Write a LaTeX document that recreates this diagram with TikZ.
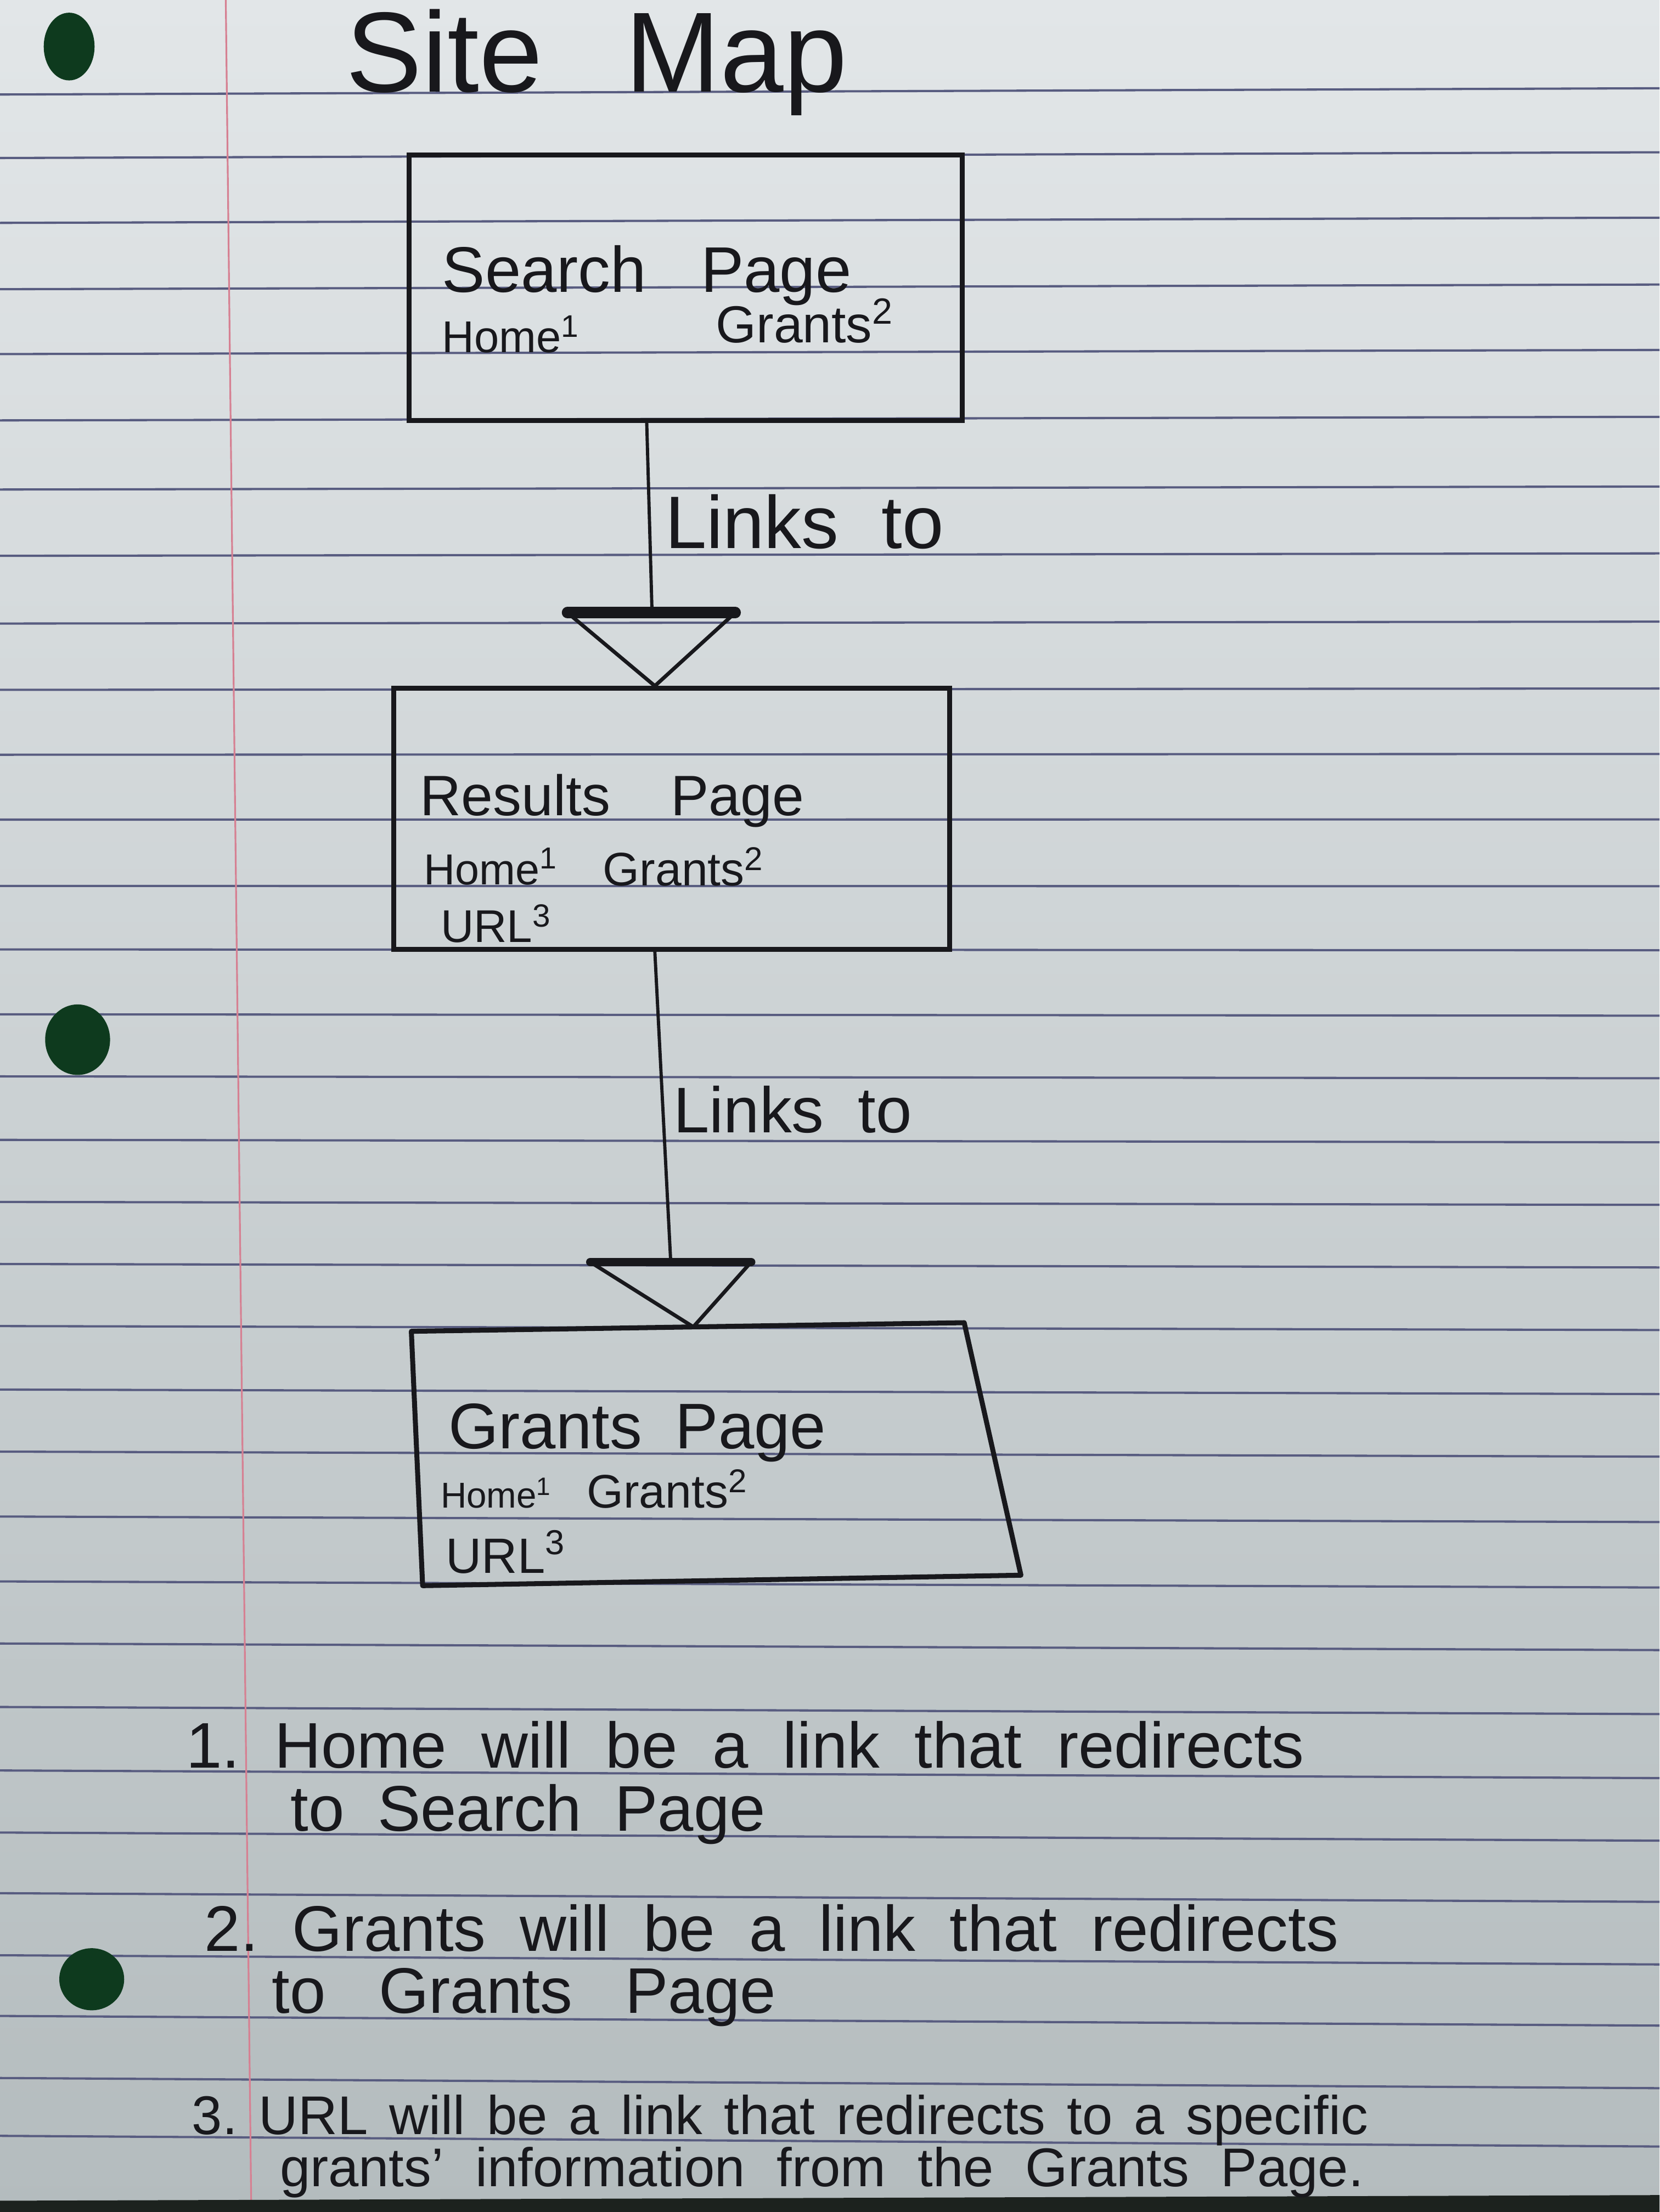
\documentclass[tikz,border=0pt]{standalone}
\usepackage{fontspec}
\setmainfont{Liberation Sans}
\usepackage{xcolor}
\usepackage{tikz}
\usetikzlibrary{calc}

\definecolor{ink}{RGB}{24,24,28}
\definecolor{paperTop}{RGB}{226,230,232}
\definecolor{paperBot}{RGB}{180,188,190}
\definecolor{ruleblue}{RGB}{88,92,128}
\definecolor{marginred}{RGB}{214,128,146}
\definecolor{holegreen}{RGB}{14,58,30}
\definecolor{deskdark}{RGB}{28,34,30}

% spread a handwritten line over its measured width
\newcommand{\handline}[2]{\makebox[#1][s]{#2}}

\begin{document}
\frenchspacing
\begin{tikzpicture}[
    x=0.2mm, y=-0.2mm,
    rule/.style={ruleblue, line width=0.9pt},
    pagebox/.style={
      draw=ink,
      line width=2pt,
      inner sep=0pt
    },
    headline/.style={anchor=base west, inner sep=0pt, text=ink, font=\fontsize{#1}{#1}\selectfont},
    headline/.default=26,
    linklabel/.style={anchor=base west, inner sep=0pt, text=ink, font=\fontsize{#1}{#1}\selectfont},
    linklabel/.default=19,
    note/.style={anchor=base west, inner sep=0pt, text=ink, font=\fontsize{#1}{#1}\selectfont},
    note/.default=26,
    link/.style={ink, line width=1.3pt},
    head/.style={ink, line width=1.5pt, line join=round},
    headbar/.style={ink, line width=4.5pt, line cap=round}
  ]
    \useasboundingbox (0,0) rectangle (1176,1568);

    % Notebook paper
    \shade[top color=paperTop, bottom color=paperBot] (0,0) rectangle (1176,1568);
    \foreach \ry in {67,112,158,205,251,298,347,394,442,489,535,581,628,673,719,763,808,852,896,940,985,1029,1075,1121,1165,1210,1255,1299,1342,1386,1429,1473,1514} {
      \draw[rule] (0,\ry) -- (1176,{\ry-5+\ry*0.0083});
    }
    \draw[marginred, line width=0.7pt] (160,0) -- (178,1560);

    % Punched holes and desk edge
    \fill[holegreen] (49,33) ellipse [x radius=18, y radius=24];
    \fill[holegreen] (55,737) ellipse [x radius=23, y radius=25];
    \fill[holegreen] (65,1403) ellipse [x radius=23, y radius=22];
    \fill[deskdark] (0,1560) -- (1176,1556) -- (1176,1568) -- (0,1568) -- cycle;

    % Title
    \node[anchor=base west, inner sep=0pt, text=ink, font=\fontsize{46}{52}\selectfont] (title) at (245,65) {\handline{71mm}{Site Map}};

    % Pages
    \node[pagebox, minimum width=78.4mm, minimum height=37.6mm] (search) at (486,204) {};
    \node[pagebox, minimum width=78.8mm, minimum height=37mm] (results) at (476,580.5) {};

    % Grants Page box (right side drawn slanting)
    \coordinate (grantsTL) at (291.5,943.7);
    \coordinate (grantsTR) at (683.3,937.6);
    \coordinate (grantsBR) at (723.5,1116.6);
    \coordinate (grantsBL) at (299.5,1124);
    \draw[ink, line width=2pt, line join=round] (grantsTL) -- (grantsTR) -- (grantsBR) -- (grantsBL) -- cycle;

    % Search Page contents
    \node[headline] (searchTitle) at (313,207) {\handline{58mm}{Search Page}};
    \node[linklabel=18] (searchHome) at (313,250) {Home\textsuperscript{1}};
    \node[linklabel=21] (searchGrants) at (507,243) {Grants\textsuperscript{2}};

    % Results Page contents
    \node[headline=23] (resultsTitle) at (297.5,578) {\handline{54.4mm}{Results Page}};
    \node[linklabel=17.5] (resultsHome) at (300,627) {Home\textsuperscript{1}};
    \node[linklabel=19] (resultsGrants) at (427,628) {Grants\textsuperscript{2}};
    \node[linklabel=18.5] (resultsUrl) at (312,668) {URL\textsuperscript{3}};

    % Grants Page contents
    \node[headline] (grantsTitle) at (317.5,1027) {\handline{53.5mm}{Grants Page}};
    \node[linklabel=14.5] (grantsHome) at (312,1069) {Home\textsuperscript{1}};
    \node[linklabel=19] (grantsGrants) at (415.6,1069) {Grants\textsuperscript{2}};
    \node[linklabel=20] (grantsUrl) at (315.7,1115) {URL\textsuperscript{3}};

    % Search -> Results
    \coordinate (tipA) at ($(results.north west)!0.47!(results.north east)$);
    \draw[link] ($(search.south west)!0.43!(search.south east)$) -- ($(tipA)+(-2,-52)$);
    \draw[head] ($(tipA)+(-62,-52)$) -- (tipA) -- ($(tipA)+(57,-52)$);
    \draw[headbar] ($(tipA)+(-62,-52)$) -- ($(tipA)+(57,-52)$);
    \node[anchor=base west, inner sep=0pt, text=ink, font=\fontsize{30}{34}\selectfont] (linkA) at (471,388.5) {\handline{39.5mm}{Links to}};

    % Results -> Grants
    \coordinate (tipB) at ($(grantsTL)!0.51!(grantsTR)$);
    \draw[link] ($(results.south west)!0.47!(results.south east)$) -- ($(tipB)+(-16,-46)$);
    \draw[head] ($(tipB)+(-73,-46)$) -- (tipB) -- ($(tipB)+(41,-46)$);
    \draw[headbar, line width=3.4pt] ($(tipB)+(-73,-46)$) -- ($(tipB)+(41,-46)$);
    \node[anchor=base west, inner sep=0pt, text=ink, font=\fontsize{26}{30}\selectfont] (linkB) at (477,803) {\handline{33.8mm}{Links to}};

    % Footnotes
    \node[note] (noteOneA) at (131.5,1253) {\handline{158.5mm}{1. Home will be a link that redirects}};
    \node[note] (noteOneB) at (205.7,1298) {\handline{67.3mm}{to Search Page}};
    \node[note] (noteTwoA) at (144.7,1383) {\handline{160.7mm}{2. Grants will be a link that redirects}};
    \node[note] (noteTwoB) at (192.5,1427) {\handline{71.4mm}{to Grants Page}};
    \node[note=22] (noteThreeA) at (135.7,1513) {\handline{166.7mm}{3. URL will be a link that redirects to a specific}};
    \node[note=22] (noteThreeB) at (198,1550) {\handline{153.6mm}{grants' information from the Grants Page.}};

  \end{tikzpicture}
\end{document}
